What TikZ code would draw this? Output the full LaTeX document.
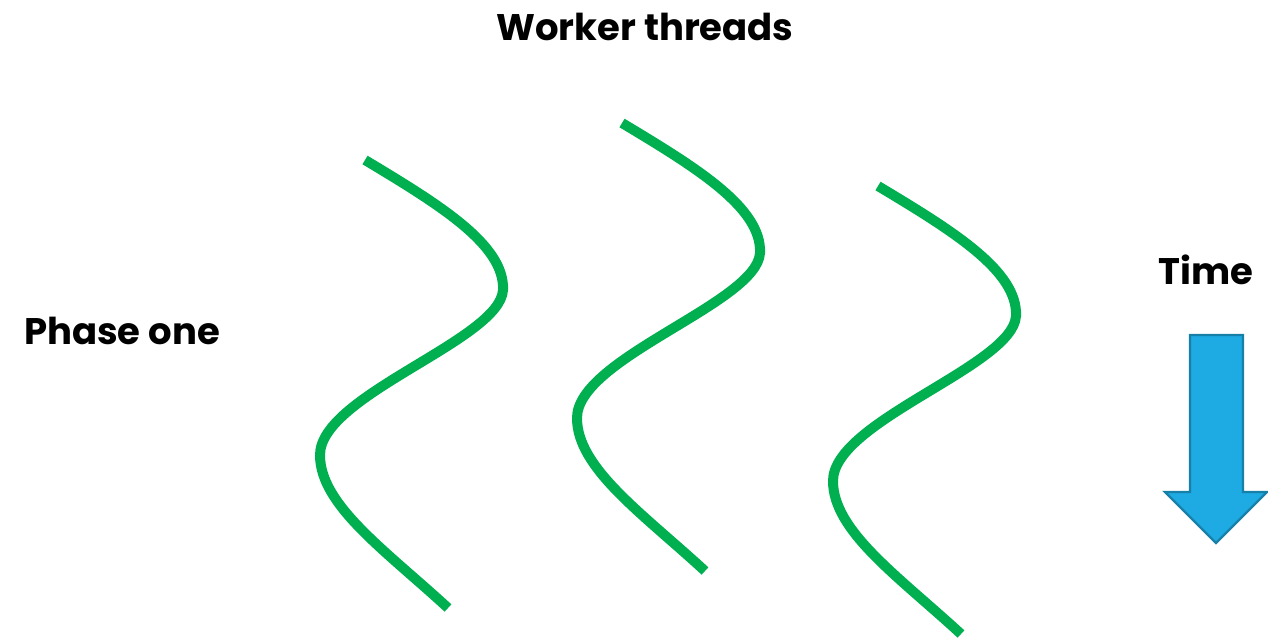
\documentclass[tikz,border=0pt]{standalone}
\usepackage{fontspec}
\setmainfont{Poppins}[BoldFont={* Bold}]
\definecolor{threadgreen}{RGB}{0,176,80}
\definecolor{arrowfill}{RGB}{30,170,226}
\definecolor{arrowline}{RGB}{22,128,168}
\begin{document}
\begin{tikzpicture}[x=0.5pt,y=-0.5pt,
  thread/.style={line width=5pt,draw=threadgreen},
  label/.style={font=\bfseries\fontsize{18.5}{22}\selectfont,inner sep=0pt},
  timearrow/.style={fill=arrowfill,draw=arrowline,line width=1.2pt,line join=miter}]
\useasboundingbox (0,0) rectangle (1268,641);
\node[label] (title) at (645,27) {Worker threads};
\node[label] (phase) at (122,331) {Phase one};
\node[label] (time) at (1206,270) {Time};
\foreach \dx/\dy [count=\i] in {0/0,257/-37,513/26}{
  \begin{scope}[shift={(\dx,\dy)}]
    \draw[thread] (365,160) .. controls (440,205) and (505,245) .. (503,290)
      .. controls (500,340) and (320,395) .. (320,455)
      .. controls (320,505) and (385,550) .. (448,608);
  \end{scope}
}
\draw[timearrow] (1190,335) -- (1243,335) -- (1243,492) -- (1267,492) -- (1216,543) -- (1165,492) -- (1190,492) -- cycle;
\end{tikzpicture}
\end{document}
